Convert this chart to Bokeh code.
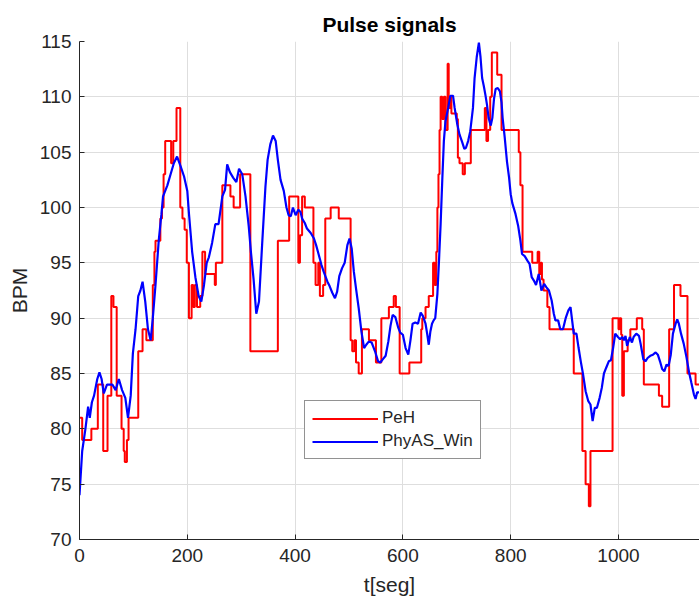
from bokeh.plotting import figure
from bokeh.models import FixedTicker, Range1d, Legend, LegendItem
from bokeh.embed import file_html
from bokeh.resources import INLINE

# ---------------- data ----------------
x_ticks = [0, 200, 400, 600, 800, 1000]
x_tick_labels = ["0", "200", "400", "600", "800", "1000"]
y_ticks = [70, 75, 80, 85, 90, 95, 100, 105, 110, 115]
y_tick_labels = ["70", "75", "80", "85", "90", "95", "100", "105", "110", "115"]

series_names = ["PeH", "PhyAS_Win"]

# PeH (step signal: value holds from each time until the next)
peh_t = [0, 5, 22, 34, 44, 52, 59, 63, 69, 78,
         82, 84, 88, 91, 109, 117, 124, 136, 139, 141,
         150, 153, 156, 159, 170, 174, 180, 187, 191, 195,
         199, 203, 208, 211, 214, 218, 224, 228, 233, 251,
         253, 265, 280, 286, 298, 317, 365, 368, 389, 406,
         409, 413, 418, 434, 438, 443, 446, 452, 456, 466,
         481, 503, 506, 510, 513, 518, 524, 537, 550, 560,
         574, 583, 587, 594, 612, 634, 636, 642, 648, 656,
         659, 662, 664, 666, 668, 670, 673, 676, 679, 683,
         685, 688, 690, 700, 702, 705, 711, 715, 722, 726,
         752, 755, 758, 762, 765, 775, 783, 815, 818, 822,
         840, 850, 853, 856, 858, 861, 868, 872, 917, 933,
         939, 945, 948, 989, 1000, 1002, 1005, 1007, 1010, 1017,
         1022, 1034, 1044, 1047, 1075, 1081, 1094, 1103, 1115, 1128,
         1143, 1151]
peh_v = [81, 79, 80, 84, 78, 83, 92, 91, 83, 80,
         78, 77, 79, 81, 87, 89, 88, 93, 96, 97,
         99, 100, 103, 106, 104, 106, 109, 100, 99, 98,
         95, 90, 93, 91, 93, 91, 92, 96, 94, 93,
         95, 102, 101, 100, 103, 87, 87, 97, 101, 95,
         97.5, 101, 100, 95, 93, 95, 92, 93, 99, 100,
         99, 88, 87, 88, 86, 85, 89, 88, 86, 90,
         91, 92, 91, 85, 86, 89, 90, 91, 92, 95,
         93, 96, 100, 103, 107, 110, 108, 110, 107, 113,
         109, 110, 108.5, 108, 104.5, 104, 103, 104, 104, 107,
         109, 106, 107, 110, 114, 112, 107, 105, 102, 96,
         95, 96, 94, 95, 93.5, 92.5, 91, 89, 85, 78,
         75, 73, 78, 90, 89, 90, 88.5, 83, 87, 88,
         89, 90, 89, 84, 83, 82, 89, 93, 92, 85,
         84, 84]

# PhyAS_Win
phy_t = [0, 5, 11, 16, 19, 23, 27, 33, 37, 41,
         45, 51, 61, 67, 73, 79, 85, 90, 95, 99,
         104, 109, 113, 117, 122, 127, 132, 136, 141, 147,
         152, 155, 163, 169, 175, 181, 187, 194, 200, 203,
         209, 215, 221, 226, 231, 236, 240, 246, 252, 258,
         265, 270, 274, 279, 285, 291, 296, 302, 308, 314,
         318, 323, 328, 333, 339, 345, 349, 354, 359, 364,
         368, 373, 379, 384, 388, 392, 396, 401, 406, 410,
         413, 418, 422, 429, 435, 439, 444, 449, 453, 460,
         464, 469, 474, 478, 482, 487, 492, 497, 501, 505,
         509, 513, 518, 523, 528, 532, 537, 542, 546, 549,
         554, 558, 563, 568, 573, 577, 581, 586, 591, 595,
         600, 605, 610, 614, 618, 623, 628, 633, 637, 642,
         645, 648, 651, 654, 657, 660, 664, 667, 670, 673,
         676, 679, 684, 688, 693, 696, 701, 705, 710, 714,
         717, 721, 725, 730, 733, 737, 741, 744, 747, 750,
         753, 756, 759, 763, 766, 769, 772, 776, 780, 783,
         785, 789, 793, 797, 800, 803, 809, 814, 818, 821,
         826, 831, 835, 839, 843, 847, 852, 857, 862, 866,
         871, 876, 880, 883, 888, 892, 897, 902, 907, 911,
         914, 917, 922, 926, 930, 934, 939, 944, 948, 952,
         956, 960, 965, 969, 973, 977, 982, 986, 990, 994,
         999, 1003, 1007, 1010, 1013, 1016, 1021, 1025, 1028, 1033,
         1038, 1041, 1046, 1050, 1054, 1059, 1064, 1069, 1073, 1077,
         1081, 1085, 1089, 1093, 1097, 1101, 1106, 1109, 1112, 1116,
         1121, 1126, 1131, 1135, 1140, 1143, 1146, 1151]
phy_v = [74, 78, 80, 82, 81, 82.4, 83, 84.5, 85.1, 84.5,
         83.2, 84, 84, 83.5, 84.5, 83.5, 82.8, 81, 83, 86.8,
         89, 92, 92.5, 93.3, 91.5, 89, 88, 90, 93, 97,
         99.4, 101, 102, 103, 104, 104.6, 103.8, 102.8, 101.5, 99.5,
         96, 93.7, 92, 91.5, 93, 95, 95.5, 96.8, 98.5, 98.5,
         101, 101.6, 103.9, 103.2, 102.7, 102.3, 103.5, 103, 101, 98.3,
         96, 93.5, 90.4, 91.5, 96.8, 101.9, 104.3, 105.7, 106.5, 106,
         104.3, 102.5, 101.5, 100, 99.3, 99.2, 100, 99.3, 99.8, 99.6,
         99, 98.6, 98.1, 97.7, 97.2, 96.6, 95.7, 94.8, 94.2, 93.3,
         92.9, 92.3, 91.8, 92.4, 93.8, 94.5, 95, 96.6, 97.2, 96.3,
         94.2, 92.7, 90.9, 88.8, 87.3, 87.6, 87.9, 87.8, 87.3, 86.9,
         86.1, 86, 86.3, 86.6, 87.9, 89.3, 90.3, 90.1, 89.2, 88.7,
         88.5, 87.3, 86.7, 88, 89.5, 89.6, 89.5, 90.5, 90.2, 89.5,
         88.6, 87.6, 88.8, 89.5, 89.8, 90, 92.2, 95.2, 98.5, 102.4,
         106, 107.8, 109, 110.1, 110.1, 109, 107.5, 106.6, 105.9, 105.3,
         105.4, 106, 106.9, 109, 111.7, 113.6, 114.9, 113.6, 111.7, 111,
         110.2, 109.3, 108.1, 107.4, 108.1, 109.8, 110.7, 110.8, 110.5, 109.5,
         108.1, 106.3, 104.2, 102.7, 101.2, 100.4, 99.4, 98.3, 97, 95.8,
         95.6, 95.2, 94.9, 93.7, 93.4, 93, 94, 92.5, 93.1, 92.8,
         92.5, 91.6, 90.4, 89.8, 89.8, 89, 89, 90, 90.7, 91,
         89.8, 88.6, 88.6, 87.3, 86.1, 85, 83.4, 82.5, 82.2, 80.7,
         81.9, 81.9, 82.8, 83.7, 85, 85.5, 86.1, 86.2, 87.3, 88.6,
         88.3, 88.1, 88.3, 88, 88.4, 87.5, 88.3, 87.8, 88.3, 88.6,
         88.4, 87.7, 86.3, 86.1, 86.4, 86.6, 86.7, 86.9, 86.7, 86.1,
         85.4, 85.2, 85.8, 85.7, 86.7, 88.6, 89.5, 89.9, 89.5, 88.6,
         87.7, 86.5, 85.1, 84.2, 83.1, 82.7, 83.3, 83.3]

# ---------------- figure ----------------
FONT = "Liberation Sans"
DARK = "#262626"

p = figure(width=699, height=599, output_backend="svg", toolbar_location=None,
           x_range=Range1d(0, 1150.3), y_range=Range1d(70, 115),
           min_border_left=79, min_border_right=0, min_border_top=41,
           min_border_bottom=60, title="Pulse signals")
p.outline_line_color = None
p.background_fill_color = "white"
p.border_fill_color = "white"

p.title.align = "center"
p.title.offset = 4
p.title.text_font = FONT
p.title.text_font_size = "21px"
p.title.text_font_style = "bold"
p.title.text_color = "#000000"
p.title.standoff = 11

for ax in (p.xaxis[0], p.yaxis[0]):
    ax.axis_line_color = DARK
    ax.axis_line_width = 1
    ax.major_tick_in = 5
    ax.major_tick_out = 0
    ax.major_tick_line_color = DARK
    ax.minor_tick_line_color = None
    ax.major_label_text_font = FONT
    ax.major_label_text_font_size = "19px"
    ax.major_label_text_color = DARK
    ax.axis_label_text_font = FONT
    ax.axis_label_text_font_size = "21px"
    ax.axis_label_text_font_style = "normal"
    ax.axis_label_text_color = DARK

p.xaxis.ticker = FixedTicker(ticks=x_ticks)
p.xaxis.major_label_overrides = dict(zip(x_ticks, x_tick_labels))
p.yaxis.ticker = FixedTicker(ticks=y_ticks)
p.yaxis.major_label_overrides = dict(zip(y_ticks, y_tick_labels))
p.xaxis.major_label_standoff = 9
p.yaxis.major_label_standoff = 8
p.xaxis.axis_label = "t[seg]"
p.yaxis.axis_label = "BPM"
p.xaxis.axis_label_standoff = 8
p.yaxis.axis_label_standoff = 6

p.grid.grid_line_color = "#dedede"
p.grid.grid_line_width = 1

r1 = p.step(peh_t, peh_v, mode="after", line_color="#ff0000", line_width=2)
r2 = p.line(phy_t, phy_v, line_color="#0000ff", line_width=2.2)

legend = Legend(items=[LegendItem(label=series_names[0], renderers=[r1]),
                       LegendItem(label=series_names[1], renderers=[r2])],
                location=(225, 80))
legend.border_line_color = DARK
legend.border_line_width = 1
legend.background_fill_color = "white"
legend.background_fill_alpha = 1
legend.label_text_font = FONT
legend.label_text_font_size = "17px"
legend.label_text_color = DARK
legend.glyph_width = 66
legend.glyph_height = 19
legend.label_height = 19
legend.label_standoff = 4
legend.padding = 7
legend.spacing = 3
legend.margin = 0
p.add_layout(legend)

open("out.html", "w").write(file_html(p, INLINE))
